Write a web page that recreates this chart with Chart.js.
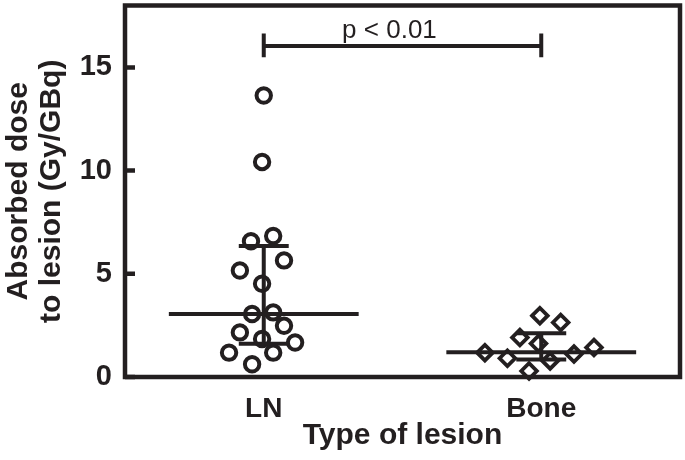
<!DOCTYPE html>
<html>
<head>
<meta charset="utf-8">
<script src="https://cdn.jsdelivr.net/npm/chart.js@4.4.0/dist/chart.umd.min.js"></script>
<style>
  html, body { margin: 0; padding: 0; background: #fff; }
</style>
</head>
<body>
<canvas id="myChart" width="685" height="460"></canvas>
<script>
const categories = ['LN', 'Bone'];
const yTicks = [0, 5, 10, 15];

// dose per lesion, with the horizontal scatter (category units)
const lnValues = [13.64, 10.42, 6.83, 6.58, 5.65, 5.16, 4.52, 3.13, 3.05, 2.48, 2.16, 1.84, 1.67, 1.18, 1.18, 0.62];
const lnJitter = [0, -0.006, 0.034, -0.046, 0.073, -0.086, -0.006, 0.034, -0.042, 0.073, -0.086, -0.006, 0.113, -0.125, 0.034, -0.042];
const boneValues = [2.97, 2.64, 1.91, 1.62, 1.18, 0.91, 0.78, 1.11, 1.43, 0.29];
const boneJitter = [-0.005, 0.07, -0.077, -0.01, -0.203, -0.122, 0.032, 0.118, 0.19, -0.044];

// median and interquartile range per group
const medians = [3.05, 1.2];
const lowerQ = [1.61, 0.85];
const upperQ = [6.35, 2.12];

const pText = 'p < 0.01';
const pLevel = 16.04;

const ink = '#231f20';
const fontFamily = "'Liberation Sans', Arial, sans-serif";
const medHalf = 0.342;
const capHalf = 0.09;

Chart.defaults.color = ink;
Chart.defaults.font.family = fontFamily;

function points(values, jitter, group) {
    return values.map((v, i) => ({ x: group + 0.5 + jitter[i], y: v }));
}

function summaryLines() {
    let pts = [];
    const gap = { x: 0, y: null };
    for (let i = 0; i < categories.length; i++) {
        const c = i + 0.5;
        pts.push({ x: c - medHalf, y: medians[i] }, { x: c + medHalf, y: medians[i] }, gap);
        pts.push({ x: c, y: lowerQ[i] }, { x: c, y: upperQ[i] }, gap);
        pts.push({ x: c - capHalf, y: upperQ[i] }, { x: c + capHalf, y: upperQ[i] }, gap);
        pts.push({ x: c - capHalf, y: lowerQ[i] }, { x: c + capHalf, y: lowerQ[i] }, gap);
    }
    return pts;
}

function bracketLines() {
    const gap = { x: 0, y: null };
    return [
        { x: 0.5, y: pLevel }, { x: 1.5, y: pLevel }, gap,
        { x: 0.5, y: pLevel - 0.55 }, { x: 0.5, y: pLevel + 0.6 }, gap,
        { x: 1.5, y: pLevel - 0.55 }, { x: 1.5, y: pLevel + 0.6 }
    ];
}

const framePlugin = {
    id: 'frame',
    beforeDatasetsDraw(chart) {
        const { ctx, chartArea: a, scales } = chart;
        ctx.save();
        ctx.strokeStyle = ink;
        ctx.lineWidth = 4.5;
        ctx.strokeRect(a.left, a.top, a.right - a.left, a.bottom - a.top);
        ctx.beginPath();
        yTicks.forEach(v => {
            const py = scales.y.getPixelForValue(v);
            ctx.moveTo(a.left, py);
            ctx.lineTo(a.left + 10, py);
        });
        ctx.stroke();
        ctx.fillStyle = ink;
        ctx.font = "26px " + fontFamily;
        ctx.textAlign = 'center';
        ctx.textBaseline = 'alphabetic';
        ctx.fillText(pText, scales.x.getPixelForValue(0.953), scales.y.getPixelForValue(pLevel + 0.4));
        ctx.restore();
    }
};

function noPad(scale) {
    scale.paddingTop = 0;
    scale.paddingBottom = 0;
    scale.paddingLeft = 0;
    scale.paddingRight = 0;
}

const ctx = document.getElementById('myChart').getContext('2d');
const myChart = new Chart(ctx, {
    type: 'scatter',
    data: {
        datasets: [
            {
                label: 'summary',
                data: summaryLines(),
                showLine: true,
                spanGaps: false,
                borderColor: ink,
                borderWidth: 4,
                pointRadius: 0,
                clip: false
            },
            {
                label: 'bracket',
                data: bracketLines(),
                showLine: true,
                spanGaps: false,
                borderColor: ink,
                borderWidth: 4,
                pointRadius: 0,
                clip: false
            },
            {
                label: categories[0],
                data: points(lnValues, lnJitter, 0),
                pointStyle: 'circle',
                pointRadius: 7.2,
                borderWidth: 4,
                borderColor: ink,
                backgroundColor: 'rgba(0,0,0,0)',
                clip: false
            },
            {
                label: categories[1],
                data: points(boneValues, boneJitter, 1),
                pointStyle: 'rectRot',
                pointRadius: 7.8,
                borderWidth: 3.8,
                borderColor: ink,
                backgroundColor: 'rgba(0,0,0,0)',
                clip: false
            }
        ]
    },
    options: {
        responsive: false,
        animation: false,
        layout: { autoPadding: false, padding: { top: 5.5, right: 5, left: 0, bottom: 0 } },
        plugins: {
            legend: { display: false },
            tooltip: { enabled: false }
        },
        scales: {
            x: {
                type: 'linear',
                min: 0,
                max: 2,
                grid: { display: false, drawTicks: false },
                border: { display: false },
                afterBuildTicks: (scale) => {
                    scale.ticks = categories.map((c, i) => ({ value: i + 0.5 }));
                },
                afterFit: (scale) => { scale.height = 83; noPad(scale); },
                ticks: {
                    padding: 15,
                    font: { size: 28, weight: 'bold' },
                    callback: (v) => categories[Math.round(v - 0.5)]
                },
                title: {
                    display: true,
                    text: 'Type of lesion',
                    font: { size: 30, weight: 'bold' },
                    padding: { top: 0, bottom: 6 }
                }
            },
            y: {
                min: 0,
                max: 18,
                grid: { display: false, drawTicks: false },
                border: { display: false },
                afterBuildTicks: (scale) => {
                    scale.ticks = yTicks.map(v => ({ value: v }));
                },
                afterFit: (scale) => { scale.width = 125; noPad(scale); },
                ticks: {
                    padding: 13,
                    font: { size: 29, weight: 'bold' }
                },
                title: {
                    display: true,
                    text: ['Absorbed dose', 'to lesion (Gy/GBq)'],
                    font: { size: 30, weight: 'bold', lineHeight: 1.1 },
                    padding: { top: 2, bottom: 0 }
                }
            }
        }
    },
    plugins: [framePlugin]
});
</script>
</body>
</html>
